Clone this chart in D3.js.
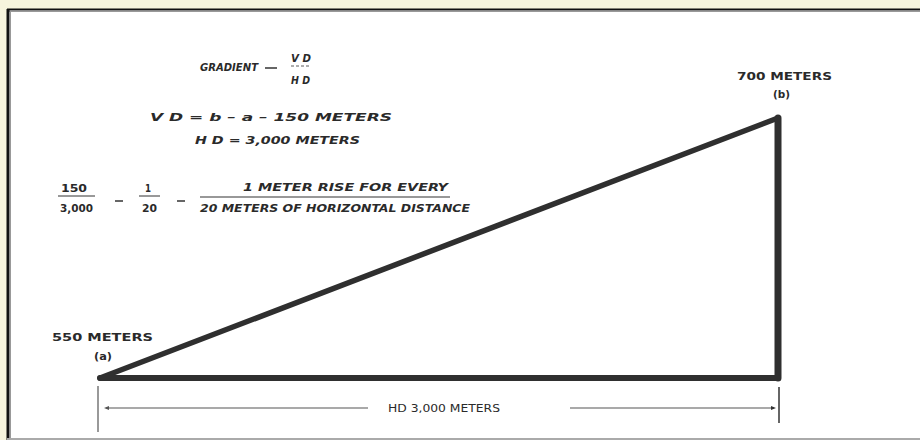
<!DOCTYPE html>
<html><head><meta charset="utf-8">
<script src="https://cdn.jsdelivr.net/npm/d3@7"></script>
<style>
html,body{margin:0;padding:0;background:#f6f4dd;overflow:hidden;}
svg{display:block;}
text{font-family:"DejaVu Sans Condensed","DejaVu Sans",sans-serif;fill:#2a2a2a;font-weight:bold;}
</style></head>
<body>
<svg id="c" width="920" height="440"></svg>
<script>
// Data
const pointLabels = ["(a)", "(b)"];
const elevations = [550, 700];          // meters
const horizontalDistance = [0, 3000];   // meters
const elevationLabels = ["550  METERS", "700 METERS"];
const hdLabel = "HD 3,000 METERS";

const svg = d3.select("#c");
// frame
svg.append("rect").attr("x",0).attr("y",0).attr("width",920).attr("height",440).attr("fill","#f6f4dd");
svg.append("rect").attr("x",7).attr("y",9).attr("width",930).attr("height",440).attr("fill","#fff");
svg.append("line").attr("x1",7).attr("x2",920).attr("y1",9.5).attr("y2",9.5).attr("stroke","#111").attr("stroke-width",2);
svg.append("line").attr("x1",7).attr("x2",920).attr("y1",11.5).attr("y2",11.5).attr("stroke","#999").attr("stroke-width",1);
svg.append("line").attr("x1",8).attr("x2",8).attr("y1",9).attr("y2",440).attr("stroke","#111").attr("stroke-width",3);
svg.append("line").attr("x1",10.5).attr("x2",10.5).attr("y1",11).attr("y2",440).attr("stroke","#999").attr("stroke-width",1);
svg.append("line").attr("x1",7).attr("x2",920).attr("y1",439).attr("y2",439).attr("stroke","#aaa").attr("stroke-width",2);

const x = d3.scaleLinear().domain([0,3000]).range([100,778]);
const y = d3.scaleLinear().domain([550,700]).range([378,118]);

const A = [x(horizontalDistance[0]), y(elevations[0])];
const B = [x(horizontalDistance[1]), y(elevations[1])];
const C = [x(horizontalDistance[1]), y(elevations[0])];

// triangle
svg.append("path").attr("d", d3.line()([A,B]))
  .attr("fill","none").attr("stroke","#2f2f2f").attr("stroke-width",5.5).attr("stroke-linecap","round");
svg.append("path").attr("d", d3.line()([B,C]))
  .attr("fill","none").attr("stroke","#2f2f2f").attr("stroke-width",7).attr("stroke-linecap","round");
svg.append("path").attr("d", d3.line()([A,C]))
  .attr("fill","none").attr("stroke","#2f2f2f").attr("stroke-width",6).attr("stroke-linecap","round");

// dimension extension lines
svg.append("line").attr("x1",A[0]-2).attr("x2",A[0]-2).attr("y1",386).attr("y2",432).attr("stroke","#777").attr("stroke-width",1.5);
svg.append("line").attr("x1",C[0]+1).attr("x2",C[0]+1).attr("y1",387).attr("y2",423).attr("stroke","#333").attr("stroke-width",1.5);
// dimension line
const dimY = 408;
svg.append("line").attr("x1",A[0]+6).attr("x2",368).attr("y1",dimY).attr("y2",dimY).attr("stroke","#555").attr("stroke-width",1.2);
svg.append("line").attr("x1",570).attr("x2",C[0]-4).attr("y1",dimY).attr("y2",dimY).attr("stroke","#555").attr("stroke-width",1.2);
svg.append("path").attr("d",`M${A[0]+4},${dimY} l5,-2 l0,4 z`).attr("fill","#555");
svg.append("path").attr("d",`M${C[0]-2},${dimY} l-5,-2 l0,4 z`).attr("fill","#333");

const txt = (xx,yy,t,len,fs,italic)=>{
  const el = svg.append("text").attr("x",xx).attr("y",yy).attr("font-size",fs)
    .attr("textLength",len).attr("lengthAdjust","spacingAndGlyphs").text(t);
  if(italic) el.style("font-style","italic");
  return el;
};

txt(388,dimY+4,hdLabel,112,11,false).style("font-weight","normal");

// point labels
txt(52,A[1]-37,elevationLabels[0],101,10.5,false);
txt(94,A[1]-18,pointLabels[0],18,10.5,false);
txt(737,B[1]-38,elevationLabels[1],95,10.5,false);
txt(773,B[1]-20,pointLabels[1],17,10.5,false);

// formulas
const hline = (x1,x2,yy,w=1)=>svg.append("line").attr("x1",x1).attr("x2",x2).attr("y1",yy).attr("y2",yy).attr("stroke","#333").attr("stroke-width",w);

txt(200,71,"GRADIENT",58,10,true);
hline(265,277,68,1.5);
txt(291,62,"V D",20,10,true);
hline(291,310,66,0.8).attr("stroke-dasharray","3,2");
txt(291,84,"H D",19,10,true);

txt(150,121,"V D   = b   – a   –  150  METERS",242,10,true);
txt(195,144,"H D   = 3,000 METERS",165,10,true);

// fraction row
txt(61,192,"150",26,10,false);
hline(58,95,196,1);
txt(60,212,"3,000",33,10,false);
hline(115,123,201,1.5);
txt(145,192,"1",6,10,false);
hline(139,160,196,1);
txt(142,212,"20",15,10,false);
hline(177,185,201,1.5);
txt(243,191,"1 METER  RISE  FOR EVERY",205,10,true);
hline(200,450,197,1.2);
txt(200,212,"20  METERS  OF  HORIZONTAL  DISTANCE",270,10,true);
</script>
</body></html>
